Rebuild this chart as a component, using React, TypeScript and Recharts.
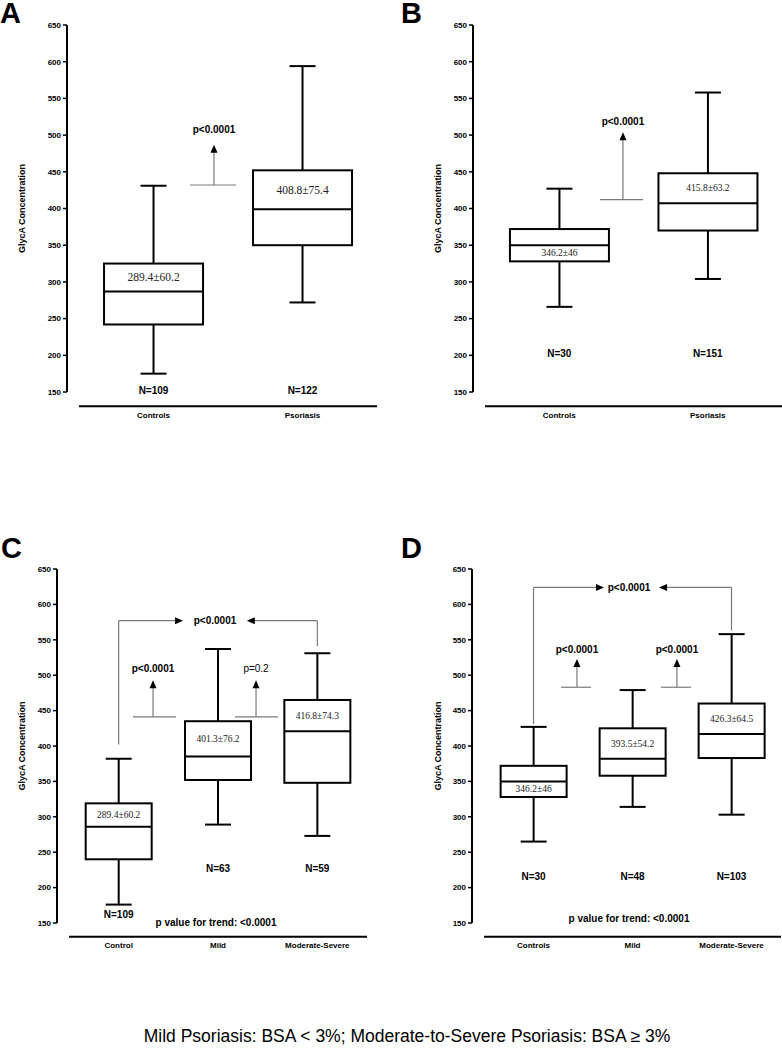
import React from 'react';
import { ComposedChart, Bar, XAxis, YAxis, ReferenceLine, ReferenceDot } from 'recharts';

// shared y ticks
const yTicks = [150, 200, 250, 300, 350, 400, 450, 500, 550, 600, 650];

// Panel A
const catsA = ['Controls', 'Psoriasis'];
const minA = [175, 272];
const q1A = [242, 350];
const medA = [287, 399];
const q3A = [325, 452];
const maxA = [431, 594];
const meanA = [289.4, 408.8];
const sdA = [60.2, 75.4];
const nA = [109, 122];

// Panel B
const catsB = ['Controls', 'Psoriasis'];
const minB = [266, 304];
const q1B = [328, 370];
const medB = [350, 407];
const q3B = [372, 448];
const maxB = [427, 558];
const meanB = [346.2, 415.8];
const sdB = [46, 63.2];
const nB = [30, 151];

// Panel C
const catsC = ['Control', 'Mild', 'Moderate-Severe'];
const minC = [176, 289, 273];
const q1C = [240, 352, 348];
const medC = [286, 385, 421];
const q3C = [319, 435, 465];
const maxC = [382, 537, 531];
const meanC = [289.4, 401.3, 416.8];
const sdC = [60.2, 76.2, 74.3];
const nC = [109, 63, 59];

// Panel D
const catsD = ['Controls', 'Mild', 'Moderate-Severe'];
const minD = [265, 314, 303];
const q1D = [328, 358, 383];
const medD = [350, 382, 417];
const q3D = [372, 425, 460];
const maxD = [427, 479, 558];
const meanD = [346.2, 393.5, 426.3];
const sdD = [46, 54.2, 64.5];
const nD = [30, 48, 103];

const footnote = 'Mild Psoriasis: BSA < 3%; Moderate-to-Severe Psoriasis: BSA \u2265 3%';

const SANS = '"Liberation Sans", Arial, sans-serif';
const SERIF = '"Liberation Serif", "Times New Roman", serif';
const GRAY = '#7a7a7a';

type Row = { name: string; pos: number; min: number; q1: number; med: number; q3: number; max: number; mean: number; sd: number; n: number; range: [number, number] };

function rows(cats: string[], mn: number[], q1: number[], md: number[], q3: number[], mx: number[], mean: number[], sd: number[], n: number[]): Row[] {
  return cats.map((name, i) => ({
    name, pos: i + 0.5, min: mn[i], q1: q1[i], med: md[i], q3: q3[i], max: mx[i], mean: mean[i], sd: sd[i], n: n[i],
    range: [q1[i], q3[i]],
  }));
}

type Seg = [number, number, number, number];
type Arrow = { x: number; y: number; dir: 'up' | 'left' | 'right' };
type Note = { x: number; y: number; text: string; bold?: boolean };

type Panel = {
  letter: string;
  left: number;
  top: number;
  height: number;
  margin: { top: number; right: number; bottom: number; left: number };
  yWidth: number;
  labelOffset: number;
  meanFont: number;
  tickDy: number;
  letterPos: [number, number];
  data: Row[];
  meanBelow: boolean[];
  nY: number[];
  segs: Seg[];
  arrows: Arrow[];
  notes: Note[];
};

const panels: Panel[] = [
  {
    letter: 'A', left: 0, top: 0, height: 430,
    margin: { top: 25, right: 14, bottom: 8, left: 0 }, yWidth: 67, labelOffset: 22, meanFont: 11.5, tickDy: 26,
    letterPos: [0, 1],
    data: rows(catsA, minA, q1A, medA, q3A, maxA, meanA, sdA, nA),
    meanBelow: [false, false],
    nY: [152, 152],
    segs: [[0.745, 432, 1.054, 432], [0.906, 432, 0.906, 477]],
    arrows: [{ x: 0.906, y: 487, dir: 'up' }],
    notes: [{ x: 0.906, y: 508, text: 'p<0.0001', bold: true }],
  },
  {
    letter: 'B', left: 391, top: 0, height: 430,
    margin: { top: 25, right: 0, bottom: 8, left: 0 }, yWidth: 82, labelOffset: 47, meanFont: 9.5, tickDy: 26,
    letterPos: [10, 1],
    data: rows(catsB, minB, q1B, medB, q3B, maxB, meanB, sdB, nB),
    meanBelow: [true, false],
    nY: [203, 203],
    segs: [[0.774, 412, 1.064, 412], [0.929, 412, 0.929, 494]],
    arrows: [{ x: 0.929, y: 504, dir: 'up' }],
    notes: [{ x: 0.929, y: 519, text: 'p<0.0001', bold: true }],
  },
  {
    letter: 'C', left: 0, top: 470, height: 495,
    margin: { top: 99, right: 24, bottom: 12, left: 0 }, yWidth: 57, labelOffset: 22, meanFont: 9.5, tickDy: 25,
    letterPos: [1, 66],
    data: rows(catsC, minC, q1C, medC, q3C, maxC, meanC, sdC, nC),
    meanBelow: [false, false, false],
    nY: [162, 227, 227],
    segs: [
      [0.5, 402, 0.5, 577], [0.5, 577, 1.07, 577], [1.87, 577, 2.5, 577], [2.5, 577, 2.5, 541],
      [0.644, 441, 1.077, 441], [0.846, 441, 0.846, 483],
      [1.671, 441, 2.104, 441], [1.883, 441, 1.883, 483],
    ],
    arrows: [
      { x: 1.148, y: 577, dir: 'right' }, { x: 1.79, y: 577, dir: 'left' },
      { x: 0.846, y: 493, dir: 'up' }, { x: 1.883, y: 493, dir: 'up' },
    ],
    notes: [
      { x: 1.47, y: 577, text: 'p<0.0001', bold: true },
      { x: 0.846, y: 510, text: 'p<0.0001', bold: true },
      { x: 1.883, y: 510, text: 'p=0.2' },
      { x: 1.48, y: 151, text: 'p value for trend: <0.0001', bold: true },
    ],
  },
  {
    letter: 'D', left: 391, top: 470, height: 495,
    margin: { top: 99, right: 1, bottom: 12, left: 0 }, yWidth: 81, labelOffset: 47, meanFont: 9.5, tickDy: 25,
    letterPos: [10, 66],
    data: rows(catsD, minD, q1D, medD, q3D, maxD, meanD, sdD, nD),
    meanBelow: [true, false, false],
    nY: [215, 215, 215],
    segs: [
      [0.5, 431, 0.5, 624], [0.5, 624, 1.13, 624], [1.85, 624, 2.5, 624], [2.5, 624, 2.5, 563],
      [0.778, 483, 1.081, 483], [0.939, 483, 0.939, 512],
      [1.788, 483, 2.091, 483], [1.949, 483, 1.949, 512],
    ],
    arrows: [
      { x: 1.212, y: 624, dir: 'right' }, { x: 1.768, y: 624, dir: 'left' },
      { x: 0.939, y: 523, dir: 'up' }, { x: 1.949, y: 523, dir: 'up' },
    ],
    notes: [
      { x: 1.465, y: 624, text: 'p<0.0001', bold: true },
      { x: 0.939, y: 537, text: 'p<0.0001', bold: true },
      { x: 1.949, y: 537, text: 'p<0.0001', bold: true },
      { x: 1.465, y: 157, text: 'p value for trend: <0.0001', bold: true },
    ],
  },
];

function boxShape(meanFont: number, meanBelow: boolean[]) {
  return (props: any) => {
    const { x, y, width, height, payload, index } = props;
    const d = payload as Row;
    const unit = height / (d.q3 - d.q1);
    const py = (v: number) => y + (d.q3 - v) * unit;
    const cx = x + width / 2;
    const cap = 13;
    const below = meanBelow[index];
    const ty = below ? (py(d.med) + py(d.q1)) / 2 : (py(d.med) + py(d.q3)) / 2;
    return (
      <g>
        <line x1={cx} x2={cx} y1={py(d.max)} y2={py(d.q3)} stroke="#000" strokeWidth={2} />
        <line x1={cx} x2={cx} y1={py(d.q1)} y2={py(d.min)} stroke="#000" strokeWidth={2} />
        <line x1={cx - cap} x2={cx + cap} y1={py(d.max)} y2={py(d.max)} stroke="#000" strokeWidth={2} />
        <line x1={cx - cap} x2={cx + cap} y1={py(d.min)} y2={py(d.min)} stroke="#000" strokeWidth={2} />
        <rect x={x} y={y} width={width} height={height} fill="#fff" stroke="#000" strokeWidth={2} />
        <line x1={x} x2={x + width} y1={py(d.med)} y2={py(d.med)} stroke="#000" strokeWidth={2} />
        <text x={cx} y={ty} textAnchor="middle" dominantBaseline="central" fontFamily={SERIF} fontSize={meanFont} fill="#222">
          {`${d.mean}\u00b1${d.sd}`}
        </text>
      </g>
    );
  };
}

function arrowShape(dir: Arrow['dir']) {
  return (props: any) => {
    const { cx, cy } = props;
    let p = '';
    if (dir === 'up') p = `M${cx},${cy} L${cx - 3.5},${cy + 8} L${cx + 3.5},${cy + 8} Z`;
    if (dir === 'right') p = `M${cx},${cy} L${cx - 8},${cy - 3.5} L${cx - 8},${cy + 3.5} Z`;
    if (dir === 'left') p = `M${cx},${cy} L${cx + 8},${cy - 3.5} L${cx + 8},${cy + 3.5} Z`;
    return <path d={p} fill="#000" />;
  };
}

function noteShape(text: string, bold?: boolean, size = 10) {
  return (props: any) => (
    <text x={props.cx} y={props.cy} textAnchor="middle" dominantBaseline="central" fontFamily={SANS}
      fontSize={size} fontWeight={bold ? 700 : 400} fill="#000">
      {text}
    </text>
  );
}

function CatTick(props: any) {
  const { x, y, payload, dy } = props;
  return (
    <text x={x} y={y + dy} textAnchor="middle" fontFamily={SANS} fontSize={8} fontWeight={700} fill="#000">
      {payload.value}
    </text>
  );
}

function BoxPanel({ p }: { p: Panel }) {
  const n = p.data.length;
  const pad = { left: 12, right: 0 };
  return (
    <div style={{ position: 'absolute', left: p.left, top: p.top }}>
      <ComposedChart width={391} height={p.height} data={p.data} margin={p.margin} barCategoryGap="16.8%">
        <XAxis xAxisId="cat" dataKey="name" padding={pad} axisLine={false} tickLine={false} tickSize={0} tickMargin={0}
          height={30} interval={0} tick={<CatTick dy={p.tickDy} />} />
        <XAxis xAxisId="num" dataKey="pos" type="number" domain={[0, n]} padding={pad} hide allowDataOverflow />
        <YAxis type="number" domain={[150, 650]} ticks={yTicks} interval={0} width={p.yWidth} allowDataOverflow
          axisLine={{ stroke: '#000', strokeWidth: 2 }} tickLine={{ stroke: '#000', strokeWidth: 1.5 }} tickSize={4} tickMargin={2}
          tick={{ fontSize: 8, fontWeight: 700, fill: '#000', fontFamily: SANS }}
          label={{ value: 'GlycA Concentration', angle: -90, position: 'insideLeft', offset: p.labelOffset,
            style: { textAnchor: 'middle', fontSize: 9, fontWeight: 700, fill: '#000', fontFamily: SANS } }} />
        <ReferenceLine xAxisId="num" segment={[{ x: 0, y: 130.5 }, { x: n, y: 130.5 }]} stroke="#000" strokeWidth={2} ifOverflow="visible" />
        {p.segs.map((s, i) => (
          <ReferenceLine key={'s' + i} xAxisId="num" segment={[{ x: s[0], y: s[1] }, { x: s[2], y: s[3] }]}
            stroke={GRAY} strokeWidth={1.2} ifOverflow="visible" />
        ))}
        <Bar xAxisId="cat" dataKey="range" isAnimationActive={false} shape={boxShape(p.meanFont, p.meanBelow)} />
        {p.arrows.map((a, i) => (
          <ReferenceDot key={'a' + i} xAxisId="num" x={a.x} y={a.y} r={4} ifOverflow="visible" shape={arrowShape(a.dir)} />
        ))}
        {p.notes.map((t, i) => (
          <ReferenceDot key={'t' + i} xAxisId="num" x={t.x} y={t.y} r={4} ifOverflow="visible" shape={noteShape(t.text, t.bold)} />
        ))}
        {p.data.map((d, i) => (
          <ReferenceDot key={'n' + i} xAxisId="num" x={d.pos} y={p.nY[i]} r={4} ifOverflow="visible" shape={noteShape('N=' + d.n, true)} />
        ))}
      </ComposedChart>
      <div style={{ position: 'absolute', left: p.letterPos[0], top: p.letterPos[1], fontFamily: SANS,
        fontWeight: 700, fontSize: 29, lineHeight: '24px', color: '#000' }}>{p.letter}</div>
    </div>
  );
}

export default function App() {
  return (
    <div style={{ position: 'absolute', left: 0, top: 0, width: 782, height: 1050, background: '#fff', fontFamily: SANS }}>
      {panels.map((p) => <BoxPanel key={p.letter} p={p} />)}
      <div style={{ position: 'absolute', left: 0, width: 814, top: 1028, textAlign: 'center', fontSize: 17.5, lineHeight: 1, color: '#000' }}>
        {footnote}
      </div>
    </div>
  );
}
